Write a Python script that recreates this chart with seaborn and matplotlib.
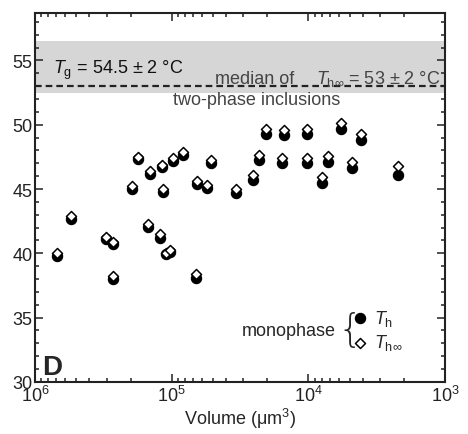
#!/usr/bin/env python3
"""
Panel D: homogenisation temperature of monophase inclusions vs. inclusion volume.
"""

import matplotlib
matplotlib.use("Agg")
import matplotlib.pyplot as plt
import numpy as np
import pandas as pd
import seaborn as sns
from matplotlib.ticker import MultipleLocator

# Inclusion volumes (um^3).
volume = [687000, 548000, 303000, 267000, 267000, 194000, 178000, 150000,
          144000, 122000, 117000, 115000, 111000, 103000, 97300, 82200,
          65600, 66400, 55000, 51600, 34000, 25300, 22900, 15700, 10200,
          7960, 7230, 4820, 2220, 20500, 15000, 10300, 5810, 4120]

# Measured homogenisation temperature T_h (filled circles), degC.
t_h = [39.8, 42.7, 41.1, 40.7, 38.0, 45.0, 47.3, 42.05, 46.2, 41.2, 46.7,
       44.75, 39.95, 40.1, 47.2, 47.65, 45.4, 38.05, 45.1, 47.0, 44.7,
       45.7, 47.25, 47.0, 47.0, 45.45, 47.1, 46.6, 46.1, 49.3, 49.2, 49.3,
       49.65, 48.85]

# Corrected temperature T_h-infinity (open diamonds), degC.
t_h_inf = [40.05, 42.9, 41.25, 40.85, 38.25, 45.2, 47.5, 42.3, 46.4, 41.5,
           46.9, 45.0, 40.05, 40.25, 47.4, 47.85, 45.65, 38.4, 45.3, 47.25,
           45.0, 46.1, 47.65, 47.4, 47.45, 45.95, 47.6, 47.1, 46.8, 49.7,
           49.6, 49.65, 50.1, 49.3]

# Reference levels (degC).
T_G = 54.5
T_G_ERR = 2.0
T_H_INF_MEDIAN = 53.0

df = pd.DataFrame({"volume": volume, "t_h": t_h, "t_h_inf": t_h_inf})

sns.set_style("ticks")
plt.rcParams["font.family"] = ["Liberation Sans", "DejaVu Sans"]
plt.rcParams["mathtext.fontset"] = "custom"
plt.rcParams["mathtext.rm"] = "Liberation Sans"
plt.rcParams["mathtext.it"] = "Liberation Sans:italic"
plt.rcParams["mathtext.bf"] = "Liberation Sans:bold"
plt.rcParams["xtick.direction"] = "in"
plt.rcParams["ytick.direction"] = "in"

fig = plt.figure(figsize=(4.68, 4.35), dpi=100)
ax = fig.add_axes([0.075, 0.12, 0.876, 0.848])

# Glass-transition band and median of two-phase inclusions.
ax.axhspan(T_G - T_G_ERR, T_G + T_G_ERR, color="#d6d6d6", lw=0, zorder=0)
ax.axhline(T_H_INF_MEDIAN, color="#222222", lw=1.6, ls=(0, (3, 1.8)), zorder=1)

sns.scatterplot(data=df, x="volume", y="t_h", marker="o", color="black",
                s=55, edgecolor="black", linewidth=0.8, ax=ax, zorder=3,
                label=r"$T_\mathrm{h}$")
sns.scatterplot(data=df, x="volume", y="t_h_inf", marker="D", color="white",
                s=26, edgecolor="black", linewidth=1.1, ax=ax, zorder=4,
                label=r"$T_\mathrm{h\infty}$")

ax.set_xscale("log")
ax.set_xlim(1e6, 1e3)
ax.set_ylim(30, 58.7)
ax.yaxis.set_major_locator(MultipleLocator(5))
ax.yaxis.set_minor_locator(MultipleLocator(1))
ax.tick_params(which="both", top=True, right=True, labelsize=13, width=1.1,
               pad=2, colors="#222222")
ax.tick_params(which="major", length=6)
ax.tick_params(which="minor", length=3)
ax.set_yticks([30, 35, 40, 45, 50, 55])
for sp in ax.spines.values():
    sp.set_linewidth(1.5)
    sp.set_color("#222222")

ax.set_xlabel(r"Volume ($\mathrm{\mu}$m$^3$)", fontsize=13, labelpad=1)
ax.set_ylabel("")

# Annotations: x in axes fraction, y in data units.
tr = ax.get_yaxis_transform()
ax.text(0.044, 54.3, r"$T_\mathrm{g}$ = 54.5 ± 2 °C", transform=tr,
        fontsize=13, va="center", ha="left", color="#111111")
ax.text(0.439, 53.25, "median of", transform=tr, fontsize=13,
        va="baseline", ha="left", color="#444444")
ax.text(0.988, 53.25, r"$T_\mathrm{h\infty}$ = 53 ± 2 °C", transform=tr,
        fontsize=13, va="baseline", ha="right", color="#444444")
ax.text(0.54, 52.6, "two-phase inclusions", transform=tr, fontsize=13,
        va="top", ha="center", color="#444444")

ax.text(0.017, 0.004, "D", transform=ax.transAxes, fontsize=20,
        fontweight="bold", va="bottom", ha="left")

# Legend with brace.
ax.legend(loc="center left", bbox_to_anchor=(0.778, 0.14), frameon=False,
          fontsize=13, handlelength=0.7, handletextpad=0.4, labelspacing=0.25,
          borderpad=0, borderaxespad=0)
ax.text(0.733, 0.138, "monophase", transform=ax.transAxes, fontsize=13,
        va="center", ha="right")
ax.text(0.738, 0.14, "{", transform=ax.transAxes, fontsize=28,
        va="center", ha="left", family="DejaVu Sans", fontweight="light")

fig.savefig("out.png", dpi=100)
